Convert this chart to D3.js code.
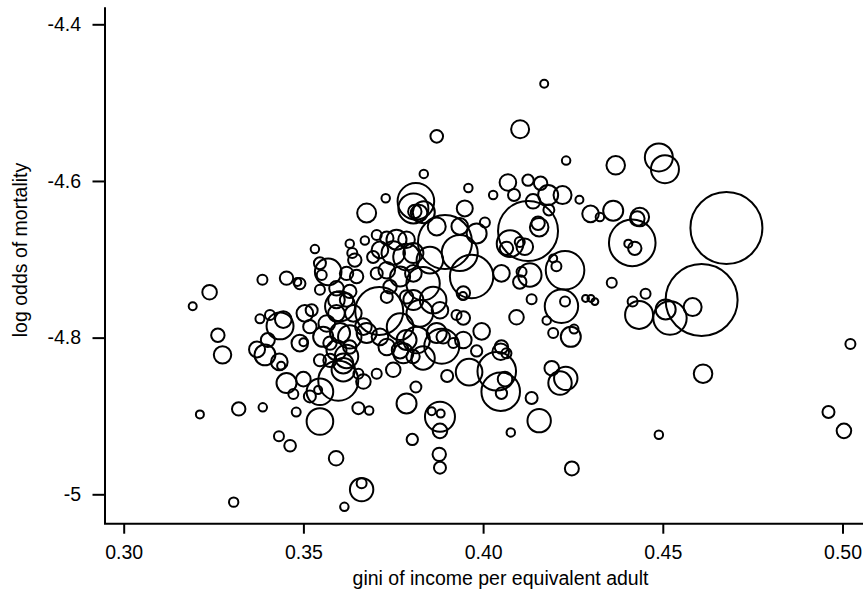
<!DOCTYPE html>
<html>
<head>
<meta charset="utf-8">
<script src="https://cdn.jsdelivr.net/npm/d3@7"></script>
<style>
  body { margin: 0; background: #fff; }
  svg text { font-family: "Liberation Sans", Arial, Helvetica, sans-serif; fill: #000; }
</style>
</head>
<body>
<div id="viz"></div>
<script>
// gini of income per equivalent adult, one value per area
const gini = [
  0.4170, 0.4103, 0.3871, 0.4231, 0.3835, 0.3959, 0.3729, 0.4028, 0.4069, 0.4086,
  0.4125, 0.4160, 0.4181, 0.4221, 0.4268, 0.4139, 0.4183, 0.4125, 0.4153, 0.4156,
  0.3813, 0.3806, 0.3810, 0.3822, 0.3949, 0.4005, 0.3894, 0.3871, 0.3982, 0.3676,
  0.4489, 0.4506, 0.4369, 0.4677, 0.4415, 0.4404, 0.4422, 0.4362, 0.4436, 0.4429,
  0.4325, 0.4299, 0.4358, 0.4608, 0.4285, 0.4300, 0.4311, 0.4452, 0.4416, 0.4434,
  0.4508, 0.4520, 0.4583, 0.5022, 0.4612, 0.4961, 0.5004, 0.4489, 0.4247, 0.4244,
  0.4253, 0.3532, 0.3629, 0.3671, 0.3704, 0.3732, 0.3759, 0.3636, 0.3643, 0.3694,
  0.3713, 0.3750, 0.3787, 0.3546, 0.3569, 0.3551, 0.3620, 0.3648, 0.3704, 0.3732,
  0.3769, 0.3386, 0.3453, 0.3490, 0.3483, 0.3546, 0.3592, 0.3629, 0.3711, 0.3602,
  0.3592, 0.3592, 0.3504, 0.3523, 0.3732, 0.3806, 0.3379, 0.3407, 0.3435, 0.3444,
  0.3401, 0.3500, 0.3371, 0.3565, 0.3602, 0.3676, 0.3713, 0.3769, 0.3787, 0.3574,
  0.3629, 0.3239, 0.3192, 0.3262, 0.3275, 0.3393, 0.3433, 0.3438, 0.3453, 0.3472,
  0.3212, 0.3320, 0.3387, 0.3480, 0.3432, 0.3463, 0.3306, 0.3490, 0.3500, 0.3546,
  0.3541, 0.3518, 0.3597, 0.3611, 0.3546, 0.3574, 0.3592, 0.3620, 0.3667, 0.3653,
  0.3653, 0.3683, 0.3546, 0.3591, 0.3662, 0.3662, 0.3614, 0.3787, 0.3813, 0.3803,
  0.3732, 0.3769, 0.3750, 0.3704, 0.3778, 0.3805, 0.4075, 0.4102, 0.4116, 0.4065,
  0.4228, 0.4204, 0.4195, 0.4051, 0.4107, 0.4130, 0.4102, 0.4135, 0.4218, 0.4228,
  0.4093, 0.4177, 0.4195, 0.3996, 0.4051, 0.3935, 0.3968, 0.3945, 0.3944, 0.3835,
  0.3852, 0.3806, 0.3833, 0.3861, 0.3880, 0.3926, 0.3945, 0.3824, 0.3871, 0.3889,
  0.3815, 0.3885, 0.3945, 0.3833, 0.3900, 0.3961, 0.3982, 0.4038, 0.4049, 0.4049,
  0.4065, 0.4061, 0.4051, 0.3880, 0.3857, 0.3882, 0.3880, 0.3878, 0.3880, 0.4135,
  0.4156, 0.4077, 0.4191, 0.4214, 0.4230, 0.3935, 0.3787, 0.3806, 0.3741, 0.3787,
  0.3917, 0.3620, 0.3639, 0.3518, 0.3555, 0.3629, 0.3667, 0.3611
];

// log odds of mortality, same order
const logOdds = [
  -4.476, -4.534, -4.543, -4.574, -4.591, -4.609, -4.622, -4.618, -4.602, -4.618,
  -4.599, -4.603, -4.618, -4.618, -4.624, -4.626, -4.637, -4.664, -4.654, -4.659,
  -4.626, -4.635, -4.639, -4.641, -4.635, -4.653, -4.678, -4.658, -4.667, -4.641,
  -4.570, -4.585, -4.580, -4.660, -4.679, -4.680, -4.686, -4.638, -4.646, -4.648,
  -4.646, -4.642, -4.730, -4.752, -4.750, -4.750, -4.754, -4.744, -4.754, -4.771,
  -4.764, -4.775, -4.761, -4.808, -4.846, -4.895, -4.919, -4.924, -4.967, -4.799,
  -4.789, -4.687, -4.680, -4.676, -4.669, -4.673, -4.675, -4.692, -4.701, -4.697,
  -4.688, -4.692, -4.697, -4.705, -4.716, -4.720, -4.718, -4.722, -4.718, -4.714,
  -4.722, -4.726, -4.724, -4.731, -4.729, -4.739, -4.737, -4.741, -4.766, -4.760,
  -4.752, -4.769, -4.769, -4.765, -4.748, -4.752, -4.776, -4.771, -4.785, -4.777,
  -4.803, -4.806, -4.815, -4.782, -4.794, -4.794, -4.799, -4.786, -4.803, -4.807,
  -4.812, -4.742, -4.760, -4.797, -4.822, -4.822, -4.831, -4.836, -4.858, -4.872,
  -4.898, -4.891, -4.889, -4.895, -4.926, -4.938, -5.010, -4.807, -4.853, -4.869,
  -4.867, -4.875, -4.855, -4.841, -4.829, -4.829, -4.816, -4.824, -4.856, -4.846,
  -4.890, -4.893, -4.907, -4.954, -4.994, -4.986, -5.016, -4.884, -4.863, -4.930,
  -4.812, -4.816, -4.841, -4.846, -4.820, -4.824, -4.680, -4.678, -4.684, -4.686,
  -4.714, -4.709, -4.699, -4.718, -4.716, -4.720, -4.729, -4.751, -4.760, -4.754,
  -4.774, -4.778, -4.794, -4.792, -4.812, -4.692, -4.722, -4.743, -4.747, -4.640,
  -4.701, -4.692, -4.731, -4.752, -4.765, -4.771, -4.775, -4.769, -4.794, -4.799,
  -4.803, -4.811, -4.803, -4.826, -4.849, -4.844, -4.817, -4.843, -4.869, -4.818,
  -4.820, -4.853, -4.871, -4.901, -4.894, -4.897, -4.919, -4.949, -4.966, -4.877,
  -4.906, -4.921, -4.839, -4.858, -4.852, -4.658, -4.675, -4.718, -4.735, -4.748,
  -4.807, -4.752, -4.769, -4.786, -4.799, -4.799, -4.786, -4.833
];

// circle size (population weight), area is proportional to it
const popSize = [
  16, 81, 40, 18, 18, 18, 18, 18, 69, 36,
  32, 45, 100, 81, 16, 53, 30, 900, 45, 86,
  335, 225, 45, 69, 64, 25, 729, 81, 100, 90,
  196, 196, 86, 1296, 543, 16, 45, 100, 86, 53,
  18, 69, 25, 1296, 12, 12, 12, 25, 25, 196,
  100, 279, 81, 25, 86, 36, 53, 18, 49, 100,
  20, 18, 18, 18, 25, 45, 100, 25, 45, 36,
  69, 137, 177, 36, 177, 25, 45, 45, 36, 69,
  100, 25, 45, 32, 16, 25, 53, 45, 576, 225,
  69, 69, 69, 36, 36, 100, 20, 25, 182, 69,
  49, 16, 64, 69, 100, 100, 69, 177, 100, 45,
  45, 53, 16, 45, 76, 110, 69, 16, 100, 25,
  16, 45, 18, 20, 25, 34, 22, 69, 53, 177,
  16, 36, 400, 137, 36, 45, 100, 137, 53, 25,
  36, 18, 177, 53, 137, 25, 18, 100, 30, 32,
  69, 69, 53, 25, 100, 45, 177, 25, 69, 45,
  372, 25, 16, 69, 25, 137, 45, 25, 279, 25,
  53, 18, 25, 69, 45, 324, 471, 45, 16, 121,
  177, 100, 279, 177, 69, 25, 45, 177, 100, 45,
  177, 306, 69, 137, 36, 177, 32, 372, 372, 69,
  25, 53, 32, 225, 16, 16, 53, 45, 36, 36,
  137, 18, 53, 137, 137, 69, 69, 69, 45, 45,
  25, 45, 69, 45, 100, 137, 69, 100
];

const xTicks = [0.30, 0.35, 0.40, 0.45, 0.50];
const yTicks = [-5, -4.8, -4.6, -4.4];
const yTickLabels = ["-5", "-4.8", "-4.6", "-4.4"];

const xTitle = "gini of income per equivalent adult";
const yTitle = "log odds of mortality";

const width = 863;
const height = 592;
const fontSize = 19.5;

const points = gini.map((g, i) => ({ gini: g, logOdds: logOdds[i], size: popSize[i] }));

const svg = d3.select("#viz")
  .append("svg")
  .attr("width", width)
  .attr("height", height);

// plot frame (R style "L" box): left edge, top, bottom edge
const frameLeft = 105, frameTop = 7.3, frameBottom = 523.7;

const x = d3.scaleLinear().domain([0.30, 0.50]).range([123.7, 842.5]);
const y = d3.scaleLinear().domain([-5, -4.4]).range([494.3, 24.3]);
const r = d3.scaleSqrt().domain([0, 1296]).range([0, 36]);

// circles
svg.append("g")
  .attr("fill", "none")
  .attr("stroke", "#000")
  .attr("stroke-width", 2)
  .selectAll("circle")
  .data(points)
  .enter().append("circle")
  .attr("cx", d => x(d.gini))
  .attr("cy", d => y(d.logOdds))
  .attr("r", d => r(d.size));

// L shaped frame
svg.append("path")
  .attr("d", `M${frameLeft},${frameTop} V${frameBottom} H${width + 5}`)
  .attr("fill", "none")
  .attr("stroke", "#000")
  .attr("stroke-width", 2);

// x axis
const xAxis = svg.append("g")
  .attr("transform", `translate(0,${frameBottom})`)
  .call(d3.axisBottom(x)
    .tickValues(xTicks)
    .tickFormat(d3.format(".2f"))
    .tickSize(10)
    .tickSizeOuter(0)
    .tickPadding(11));

// y axis
const yAxis = svg.append("g")
  .attr("transform", `translate(${frameLeft},0)`)
  .call(d3.axisLeft(y)
    .tickValues(yTicks)
    .tickFormat((d, i) => yTickLabels[i])
    .tickSize(12.5)
    .tickSizeOuter(0)
    .tickPadding(11.5));

[xAxis, yAxis].forEach(ax => {
  ax.select(".domain").remove();
  ax.selectAll(".tick line").attr("stroke", "#000").attr("stroke-width", 2);
  ax.selectAll(".tick text")
    .attr("font-size", fontSize)
    .style("font-family", "'Liberation Sans', Arial, Helvetica, sans-serif")
    .attr("fill", "#000");
});

// axis titles
svg.append("text")
  .attr("x", 500.5)
  .attr("y", 584.5)
  .attr("text-anchor", "middle")
  .attr("font-size", fontSize)
  .text(xTitle);

svg.append("text")
  .attr("transform", "translate(27,250) rotate(-90)")
  .attr("text-anchor", "middle")
  .attr("font-size", fontSize)
  .text(yTitle);
</script>
</body>
</html>
